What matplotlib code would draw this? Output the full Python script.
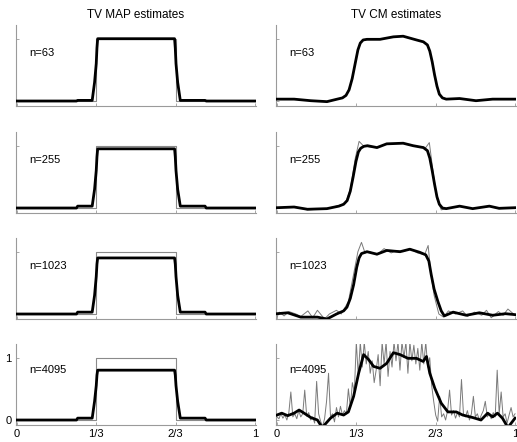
import numpy as np
import matplotlib
matplotlib.use("Agg")
import matplotlib.pyplot as plt

plt.rcParams['font.family'] = ['Liberation Sans', 'DejaVu Sans']

# ---------------- data ----------------
ns = ["n=63", "n=255", "n=1023", "n=4095"]
col_titles = ["TV MAP estimates", "TV CM estimates"]
xtick_vals = [0, 1/3, 2/3, 1]
xtick_labels = ["0", "1/3", "2/3", "1"]
ytick_vals = [0, 1]
ytick_labels = ["0", "1"]

# true signal (box)
true_x = [0, 1/3, 1/3, 2/3, 2/3, 1]
true_y = [0, 0, 1, 1, 0, 0]

# TV MAP estimates
map_x = [0, 0.25, 0.255, 0.316, 0.326, 0.333, 0.336, 0.339, 0.662, 0.665, 0.668, 0.675, 0.686, 0.79, 0.795, 1]
map63_y = [0.0, 0.0, 0.01, 0.01, 0.3, 0.6, 0.85, 1.0, 1.0, 0.85, 0.6, 0.3, 0.01, 0.01, 0.0, 0.0]
map255_y = [0.0, 0.0, 0.03, 0.03, 0.3, 0.6, 0.82, 0.95, 0.95, 0.82, 0.6, 0.3, 0.03, 0.03, 0.0, 0.0]
map1023_y = [0.0, 0.0, 0.03, 0.03, 0.3, 0.6, 0.8, 0.9, 0.9, 0.8, 0.6, 0.3, 0.03, 0.03, 0.0, 0.0]
map4095_y = [0.0, 0.0, 0.03, 0.03, 0.3, 0.55, 0.72, 0.8, 0.8, 0.72, 0.55, 0.3, 0.03, 0.03, 0.0, 0.0]

# TV CM estimates (thick)
cm63_x = [0, 0.072, 0.142, 0.21, 0.253, 0.275, 0.29, 0.303, 0.316, 0.329, 0.34, 0.35, 0.362, 0.378,
          0.433, 0.489, 0.53, 0.586, 0.615, 0.632, 0.642, 0.652, 0.662, 0.672, 0.682, 0.695, 0.711,
          0.767, 0.836, 0.906, 1.0]
cm63_y = [0.03, 0.03, 0.005, -0.01, 0.03, 0.05, 0.09, 0.18, 0.36, 0.61, 0.82, 0.93, 0.98, 0.99,
          0.99, 1.03, 1.04, 0.98, 0.95, 0.9, 0.8, 0.63, 0.42, 0.24, 0.11, 0.05, 0.03,
          0.04, 0.005, 0.03, 0.03]
cm255_x = [0, 0.072, 0.128, 0.21, 0.26, 0.28, 0.295, 0.308, 0.32, 0.332, 0.342, 0.352, 0.365, 0.38,
           0.42, 0.461, 0.53, 0.572, 0.615, 0.632, 0.642, 0.652, 0.662, 0.672, 0.682, 0.695, 0.711,
           0.767, 0.822, 0.892, 0.933, 1.0]
cm255_y = [0.005, 0.016, -0.02, -0.01, 0.03, 0.06, 0.12, 0.27, 0.5, 0.75, 0.9, 0.96, 0.99, 1.0,
           0.97, 1.03, 1.04, 1.0, 0.97, 0.92, 0.8, 0.6, 0.38, 0.18, 0.06, 0.0, -0.01,
           0.03, -0.01, 0.03, -0.005, 0.005]
cm1023_x = [0, 0.045, 0.1, 0.17, 0.21, 0.25, 0.28, 0.294, 0.308, 0.322, 0.335, 0.345, 0.355, 0.378,
            0.42, 0.461, 0.517, 0.558, 0.6, 0.625, 0.638, 0.648, 0.66, 0.676, 0.69, 0.703, 0.74,
            0.795, 0.85, 0.906, 0.96, 1.0]
cm1023_y = [0.005, 0.02, -0.05, -0.05, -0.08, 0.0, 0.05, 0.11, 0.25, 0.47, 0.75, 0.9, 0.97, 1.0,
            0.96, 1.02, 1.0, 1.04, 0.99, 0.95, 0.85, 0.63, 0.4, 0.2, 0.05, -0.03, 0.03,
            -0.02, 0.02, -0.02, 0.005, -0.01]
cm4095_x = [0, 0.02, 0.045, 0.072, 0.093, 0.114, 0.142, 0.17, 0.19, 0.225, 0.253, 0.28, 0.3,
            0.322, 0.343, 0.364, 0.385, 0.406, 0.433, 0.461, 0.489, 0.517, 0.55, 0.586, 0.614,
            0.628, 0.642, 0.663, 0.69, 0.718, 0.753, 0.78, 0.822, 0.857, 0.885, 0.906, 0.926,
            0.947, 0.97, 1.0]
cm4095_y = [0.08, 0.11, 0.07, 0.11, 0.16, 0.11, 0.04, 0.0, -0.12, 0.03, 0.11, 0.08, 0.13,
            0.38, 0.75, 1.05, 0.97, 0.86, 0.83, 0.91, 1.08, 1.05, 0.99, 0.99, 0.94,
            1.02, 0.75, 0.51, 0.27, 0.13, 0.13, 0.08, 0.04, 0.0, 0.11, 0.05, 0.11,
            0.03, -0.12, 0.03]

# TV CM estimates (thin, second estimate)
cmb255_x = [0, 0.072, 0.128, 0.21, 0.26, 0.288, 0.308, 0.329, 0.345, 0.365, 0.42, 0.461, 0.53,
            0.572, 0.625, 0.64, 0.655, 0.672, 0.69, 0.711, 0.767, 0.822, 0.892, 0.933, 1.0]
cmb255_y = [0.0, 0.02, -0.03, -0.01, 0.04, 0.08, 0.3, 0.8, 1.07, 0.99, 0.97, 1.03, 1.04,
            1.0, 0.97, 1.05, 0.6, 0.15, -0.03, -0.01, 0.03, -0.01, 0.03, -0.01, 0.0]
cmb1023_x = [0, 0.01, 0.03, 0.05, 0.08, 0.1, 0.13, 0.15, 0.17, 0.2, 0.22, 0.25, 0.27, 0.3, 0.32,
             0.34, 0.355, 0.37, 0.39, 0.42, 0.45, 0.48, 0.5, 0.53, 0.56, 0.59, 0.62, 0.635, 0.645,
             0.66, 0.68, 0.7, 0.72, 0.75, 0.78, 0.8, 0.83, 0.86, 0.88, 0.9, 0.93, 0.95, 0.97, 1.0]
cmb1023_y = [-0.05, 0.03, -0.03, 0.04, 0.0, -0.04, 0.05, -0.06, 0.06, -0.08, 0.0, 0.06, 0.0, 0.2,
             0.6, 1.0, 1.15, 0.98, 1.0, 0.95, 1.05, 0.98, 1.02, 1.0, 1.05, 0.98, 0.95, 1.1, 0.7,
             0.3, 0.0, -0.05, 0.05, 0.0, 0.05, -0.04, 0.03, -0.02, 0.06, -0.06, 0.04, -0.02, 0.08, -0.02]
cmb4095_y = [0.05, 0.02, 0.10, 0.03, 0.08, 0.00, 0.12, 0.45, 0.05, 0.10,
             0.02, 0.15, 0.05, 0.10, 0.48, 0.06, 0.12, 0.00, 0.05, -0.05,
             0.62, 0.10, -0.02, -0.10, 0.02, 0.30, 0.75, 0.05, 0.10, -0.03,
             0.20, 0.05, 0.22, 0.08, 0.15, 0.10, 0.50, 0.20, 0.60, 0.45,
             1.25, 0.70, 1.25, 0.85, 1.25, 0.90, 1.10, 0.75, 0.95, 0.60,
             0.80, 1.05, 0.55, 1.25, 0.90, 1.25, 0.70, 1.10, 0.85, 1.25,
             0.95, 1.25, 0.80, 1.25, 1.00, 1.25, 0.75, 1.25, 0.95, 1.20,
             0.90, 1.15, 0.80, 1.25, 0.90, 1.25, 0.85, 1.00, 0.55, 0.30,
             0.08, -0.02, 0.38, 0.05, 0.10, 0.00, 0.15, 0.48, 0.08, 0.15,
             0.03, 0.12, 0.05, 0.65, 0.10, 0.05, 0.15, 0.00, 0.10, 0.38,
             0.05, 0.10, 0.00, 0.08, 0.15, 0.30, 0.05, 0.10, 0.02, 0.12,
             0.05, 0.80, 0.10, 0.45, 0.05, 0.10, -0.05, 0.08, 0.20, 0.05, 0.10]
cmb4095_x = np.linspace(0, 1, len(cmb4095_y))

map_thick = [(map_x, map63_y), (map_x, map255_y), (map_x, map1023_y), (map_x, map4095_y)]
cm_thick = [(cm63_x, cm63_y), (cm255_x, cm255_y), (cm1023_x, cm1023_y), (cm4095_x, cm4095_y)]
cm_thin = [(cm63_x, cm63_y), (cmb255_x, cmb255_y), (cmb1023_x, cmb1023_y), (cmb4095_x, cmb4095_y)]
label_y = [0.77, 0.77, 0.77, 0.8]

# ---------------- figure ----------------
W, H = 517, 442
fig = plt.figure(figsize=(W / 100, H / 100), dpi=100)

col_left = [16, 276]
ax_w = 240
row_top = [25, 132, 238, 344]
ax_h = 81
spine_col = "#9a9a9a"

for r in range(4):
    for c in range(2):
        ax = fig.add_axes([col_left[c] / W, 1 - (row_top[r] + ax_h) / H, ax_w / W, ax_h / H])
        ax.set_xlim(-0.004, 1.004)
        ax.set_ylim(-0.08, 1.22)
        for s in ["top", "right"]:
            ax.spines[s].set_visible(False)
        for s in ["left", "bottom"]:
            ax.spines[s].set_color(spine_col)
            ax.spines[s].set_linewidth(0.8)
        ax.set_xticks(xtick_vals)
        ax.set_yticks(ytick_vals)
        ax.tick_params(direction="in", length=2.5, width=0.6, color=spine_col,
                       labelsize=8, pad=3)
        if r == 3:
            ax.set_xticklabels(xtick_labels)
        else:
            ax.set_xticklabels([])
        if r == 3 and c == 0:
            ax.set_yticklabels(ytick_labels)
        else:
            ax.set_yticklabels([])

        if c == 0:
            ax.plot(true_x, true_y, color="#8a8a8a", lw=0.8, zorder=2)
            tx, ty = map_thick[r]
            ax.plot(tx, ty, color="black", lw=2.0, zorder=3, solid_joinstyle="round")
        else:
            bx, by = cm_thin[r]
            ax.plot(bx, by, color="#7a7a7a", lw=0.7, zorder=2)
            tx, ty = cm_thick[r]
            ax.plot(tx, ty, color="black", lw=2.0, zorder=3, solid_joinstyle="round")

        ax.text(0.05, label_y[r], ns[r], fontsize=8, va="center", ha="left", zorder=4)
        if r == 0:
            ax.set_title(col_titles[c], fontsize=8.5, pad=5)

fig.savefig("out.png", dpi=100)
